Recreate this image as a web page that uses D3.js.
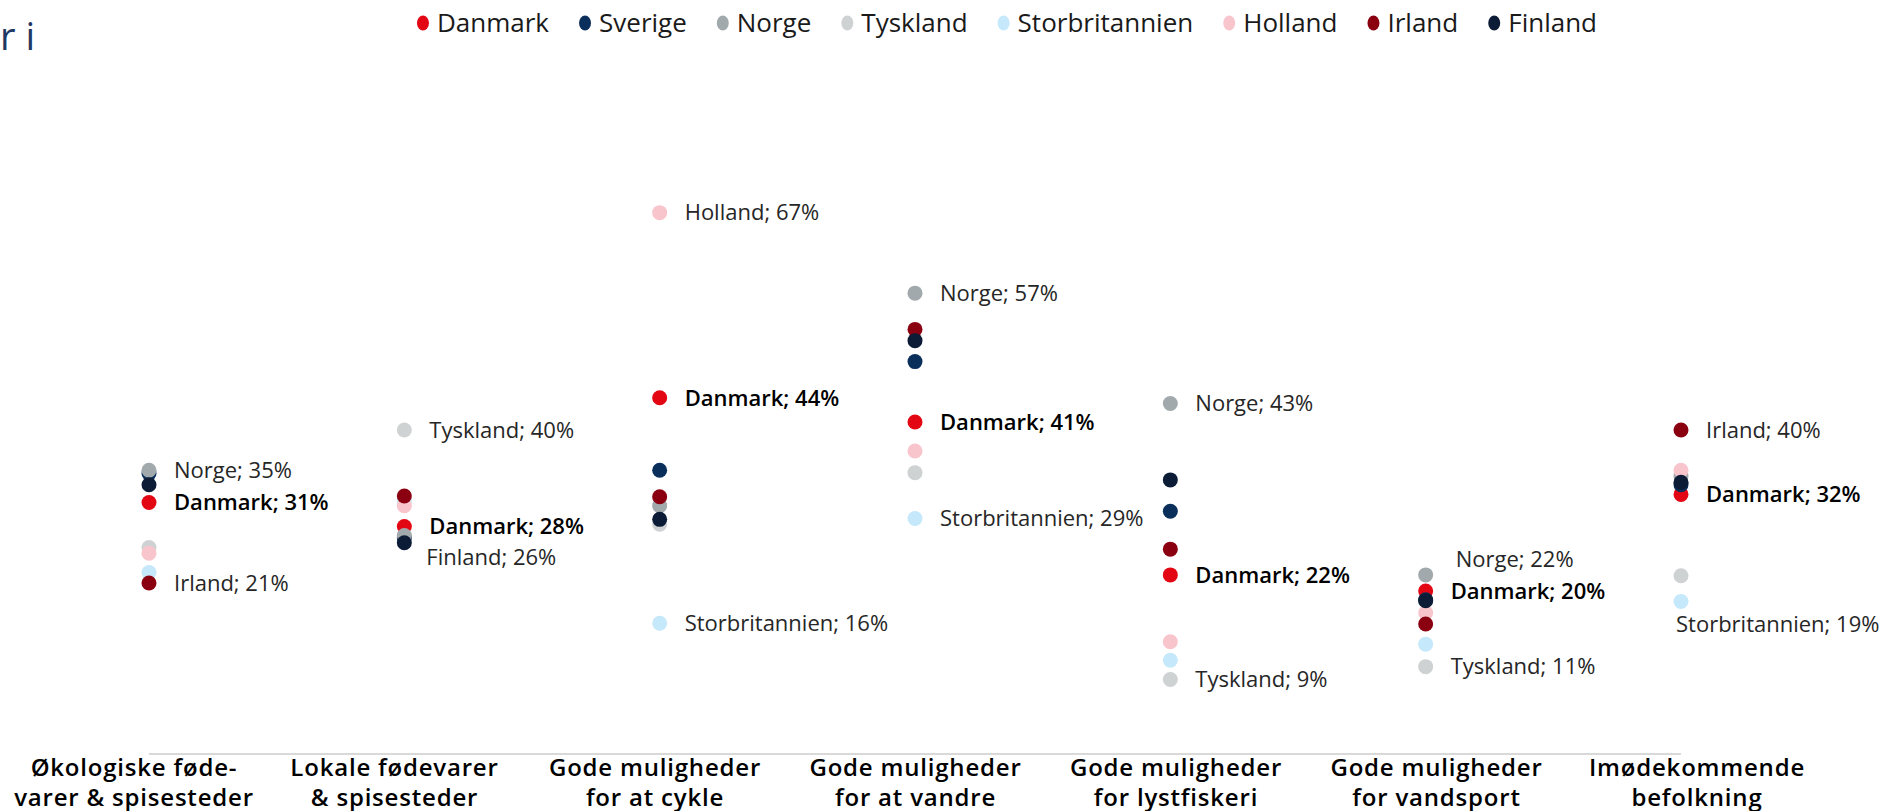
<!DOCTYPE html>
<html>
<head>
<meta charset="utf-8">
<script src="https://cdn.jsdelivr.net/npm/d3@7"></script>
<style>
  body { margin: 0; background: #fff; }
  svg { display: block; font-family: "Open Sans", sans-serif; }
</style>
</head>
<body>
<div id="chart"></div>
<script>
// canvas
var w = 1883;
var h = 811;

// categories (one entry per line of the axis label)
var categories = [
    ["Økologiske føde-", "varer & spisesteder"],
    ["Lokale fødevarer", "& spisesteder"],
    ["Gode muligheder", "for at cykle"],
    ["Gode muligheder", "for at vandre"],
    ["Gode muligheder", "for lystfiskeri"],
    ["Gode muligheder", "for vandsport"],
    ["Imødekommende", "befolkning"]
];

var countries = ["Danmark", "Sverige", "Norge", "Tyskland", "Storbritannien", "Holland", "Irland", "Finland"];
var colors = ["#e30613", "#0b2f5b", "#a2a9ad", "#cfd2d3", "#c5e8fb", "#f8c5cc", "#8b0010", "#0c1c36"];

// values in %, one per category
var danmark        = [31,   28,   44,   41,   22,   20,   32];
var sverige        = [34.6, 26.6, 35,   48.5, 29.9, 18.9, 33.2];
var norge          = [35,   26.9, 30.6, 57,   43.3, 22,   34.3];
var tyskland       = [25.4, 40,   28.3, 34.7, 9,    10.6, 21.9];
var storbritannien = [22.3, 31.2, 16,   29,   11.4, 13.4, 18.7];
var holland        = [24.7, 30.6, 67,   37.4, 13.7, 17.3, 35];
var irland         = [21,   31.8, 31.7, 52.5, 25.2, 15.9, 40];
var finland        = [33.2, 26,   28.9, 51.1, 33.8, 18.8, 33.5];

var series = [danmark, sverige, norge, tyskland, storbritannien, holland, irland, finland];

// label placement tweaks (category index|country)
var labelNudge = {
    "1|Finland": [22, 15],
    "5|Norge": [30, -16],
    "6|Storbritannien": [-5, 23]
};

var svg = d3.select("#chart")
    .append("svg")
    .attr("width", w)
    .attr("height", h);

// scales
var catIdx = d3.range(categories.length);
var xScale = d3.scalePoint().domain(catIdx).range([149, 1681]);
var xLabel = d3.scalePoint().domain(catIdx).range([134, 1697]);
var yScale = d3.scaleLinear().domain([0, 70]).range([752, 188.5]);
var color = d3.scaleOrdinal().domain(countries).range(colors);

// cut-off title
svg.append("text")
    .attr("x", 0)
    .attr("y", 50)
    .attr("fill", "#1f3864")
    .attr("font-size", 38)
    .attr("font-weight", 400)
    .text("r i");

// legend
var legend = svg.append("g");
var lx = 0;
var items = legend.selectAll("g")
    .data(countries)
    .enter()
    .append("g");
items.append("ellipse")
    .attr("rx", 6)
    .attr("ry", 7.5)
    .attr("fill", function (d) { return color(d); });
items.append("text")
    .attr("x", 14)
    .attr("dy", "0.35em")
    .attr("font-size", 26)
    .attr("fill", "#1a1a1a")
    .text(function (d) { return d; });
items.each(function () {
    var g = d3.select(this);
    g.attr("transform", "translate(" + lx + ",0)");
    lx += 14 + g.select("text").node().getComputedTextLength() + 36;
});
var legendW = lx - 36 + 6;
legend.attr("transform", "translate(" + (1007 - legendW / 2 + 6) + ",23)");

// x axis line
svg.append("line")
    .attr("x1", xScale(0))
    .attr("x2", xScale(categories.length - 1))
    .attr("y1", yScale(0) + 2)
    .attr("y2", yScale(0) + 2)
    .attr("stroke", "#d9d9d9")
    .attr("stroke-width", 2);

// category labels
var catText = svg.selectAll(".cat")
    .data(categories)
    .enter()
    .append("text")
    .attr("class", "cat")
    .attr("text-anchor", "middle")
    .attr("font-size", 24)
    .attr("font-weight", 600)
    .attr("letter-spacing", 0.8)
    .attr("fill", "#000");
catText.selectAll("tspan")
    .data(function (d, i) { return d.map(function (t) { return { t: t, i: i }; }); })
    .enter()
    .append("tspan")
    .attr("x", function (d) { return xLabel(d.i); })
    .attr("y", function (d, j) { return 776 + j * 30; })
    .text(function (d) { return d.t; });

// dots, drawn in series order
var points = [];
series.forEach(function (vals, s) {
    vals.forEach(function (v, i) {
        points.push({ country: countries[s], cat: i, value: v });
    });
});

svg.append("g")
    .selectAll("circle")
    .data(points)
    .enter()
    .append("circle")
    .attr("cx", function (d) { return xScale(d.cat); })
    .attr("cy", function (d) { return yScale(d.value); })
    .attr("r", 7.5)
    .attr("fill", function (d) { return color(d.country); });

// labels: highest, Danmark and lowest in each category
var labels = [];
catIdx.forEach(function (i) {
    var col = points.filter(function (p) { return p.cat === i; });
    var hi = col.reduce(function (a, b) { return b.value > a.value ? b : a; });
    var lo = col.reduce(function (a, b) { return b.value < a.value ? b : a; });
    var dk = col.filter(function (p) { return p.country === "Danmark"; })[0];
    [hi, dk, lo].forEach(function (p) {
        if (labels.indexOf(p) < 0) labels.push(p);
    });
});

svg.append("g")
    .selectAll("text")
    .data(labels)
    .enter()
    .append("text")
    .attr("x", function (d) {
        var n = labelNudge[d.cat + "|" + d.country];
        return xScale(d.cat) + (n ? n[0] : 25);
    })
    .attr("y", function (d) {
        var n = labelNudge[d.cat + "|" + d.country];
        return yScale(d.value) + (n ? n[1] : 0);
    })
    .attr("dy", "0.35em")
    .attr("font-size", 22)
    .attr("font-weight", function (d) { return d.country === "Danmark" ? 600 : 400; })
    .attr("fill", function (d) { return d.country === "Danmark" ? "#000" : "#262626"; })
    .text(function (d) { return d.country + "; " + Math.round(d.value) + "%"; });
</script>
</body>
</html>
